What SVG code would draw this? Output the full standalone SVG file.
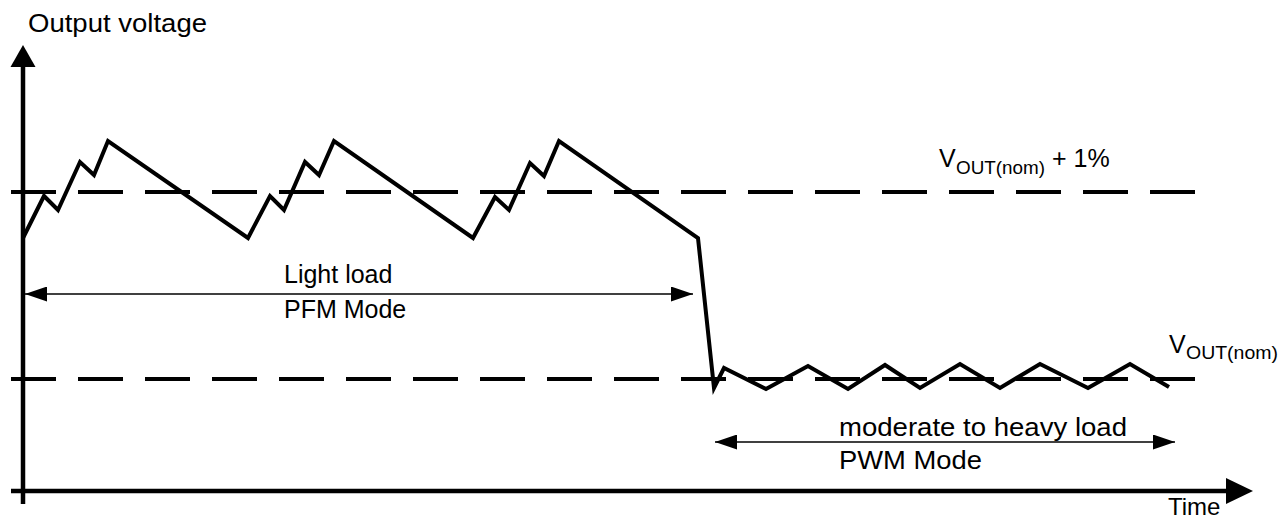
<svg xmlns="http://www.w3.org/2000/svg" width="1285" height="521" viewBox="0 0 1285 521">
<style>
.t{font-family:"Liberation Sans",Arial,sans-serif;font-size:25px;fill:#000}
.s{font-size:18px}
.axis{stroke:#000;stroke-width:4.5;fill:none}
.dash{stroke:#000;stroke-width:4;fill:none;stroke-dasharray:45 22}
.wave{stroke:#000;stroke-width:4;fill:none;stroke-linejoin:miter}
.dim{stroke:#000;stroke-width:1.5;fill:none}
</style>
<defs>
<marker id="ah" viewBox="0 0 22 15" refX="22" refY="7.5" markerWidth="22" markerHeight="15" markerUnits="userSpaceOnUse" orient="auto-start-reverse">
<path d="M0,0 L22,7.5 L0,15 Z" fill="#000"/>
</marker>
</defs>
<g id="axes">
<line class="axis" x1="23" y1="504" x2="23" y2="64"/>
<path d="M23,45 L10.5,67 L35.5,67 Z" fill="#000"/>
<line class="axis" x1="11" y1="491" x2="1228" y2="491"/>
<path d="M1253,491 L1226,478 L1226,504 Z" fill="#000"/>
</g>
<g id="levels">
<line class="dash" x1="11" y1="192" x2="1195" y2="192"/>
<line class="dash" x1="11" y1="379" x2="1195" y2="379"/>
</g>
<g id="waveform">
<polyline class="wave" points="23,238 44,196 58,210 80,162 94,175 108,141 248,238 270,196 284,210 305,162 319,175 334,141 473,238 495,197 509,210 530,163 544,176 559,141 698,238 714,388 724,368 766,389 808,366 848,389 885,365 920,388 960,364 1000,388 1040,364 1088,388 1130,364 1169,387"/>
</g>
<g id="connectors">
<line class="dim" x1="25" y1="294" x2="693" y2="294" marker-start="url(#ah)" marker-end="url(#ah)"/>
<line class="dim" x1="715" y1="442" x2="1175" y2="442" marker-start="url(#ah)" marker-end="url(#ah)"/>
</g>
<g id="labels">
<text class="t" x="28" y="32" textLength="179" lengthAdjust="spacingAndGlyphs">Output voltage</text>
<text class="t" x="284" y="283">Light load</text>
<text class="t" x="284" y="318">PFM Mode</text>
<text class="t" x="839" y="436" textLength="288" lengthAdjust="spacingAndGlyphs">moderate to heavy load</text>
<text class="t" x="839" y="469" textLength="143" lengthAdjust="spacingAndGlyphs">PWM Mode</text>
<text class="t" x="1168" y="515" style="font-size:24px">Time</text>
<g id="vout-plus">
<text class="t" x="939" y="167">V</text>
<text class="t s" x="956" y="174" textLength="89" lengthAdjust="spacingAndGlyphs">OUT(nom)</text>
<text class="t" x="1052" y="167">+ 1%</text>
</g>
<g id="vout-nom">
<text class="t" x="1169" y="353">V</text>
<text class="t s" x="1186" y="359" textLength="92" lengthAdjust="spacingAndGlyphs">OUT(nom)</text>
</g>
</g>
</svg>
